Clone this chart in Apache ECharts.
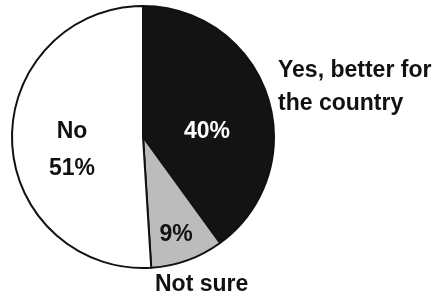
<!DOCTYPE html>
<html>
<head>
<meta charset="utf-8">
<script src="https://cdn.jsdelivr.net/npm/echarts@6/dist/echarts.min.js"></script>
<style>
  html, body { margin: 0; padding: 0; background: #fff; }
  #chart { width: 441px; height: 298px; }
</style>
</head>
<body>
<div id="chart"></div>
<script>
// answers, clockwise from 12 o'clock
const categories = ['Yes, better for\nthe country', 'Not sure', 'No']
const shares = [40, 9, 51]
const fills = ['#131313', '#bcbcbc', '#ffffff']

// where each label sits (x, y in px)
const innerLabelPos = [[207, 132], [176, 235], [72, 150]]
const outerLabelPos = [[278, 87], [155, 285], null]

const chart = echarts.init(document.getElementById('chart'))

const font = {
    fontFamily: 'Liberation Sans',
    fontWeight: 'bold',
    fontSize: 23
}

chart.setOption({
    animation: false,
    series: [
        {
            // slices with their percent labels
            type: 'pie',
            center: [143, 137],
            radius: 131,
            startAngle: 90,
            silent: true,
            itemStyle: { borderColor: '#111', borderWidth: 2 },
            label: {
                position: 'inside',
                ...font,
                lineHeight: 37,
                formatter: p => p.dataIndex === 2 ? 'No\n' + p.value + '%' : p.value + '%'
            },
            labelLine: { show: false },
            labelLayout: p => ({
                x: innerLabelPos[p.dataIndex][0],
                y: innerLabelPos[p.dataIndex][1],
                align: 'center',
                verticalAlign: 'middle'
            }),
            data: categories.map((name, i) => ({
                name,
                value: shares[i],
                itemStyle: { color: fills[i] },
                label: { color: i === 0 ? '#fff' : '#111' }
            }))
        },
        {
            // outside category names
            type: 'pie',
            center: [143, 137],
            radius: 131,
            startAngle: 90,
            silent: true,
            itemStyle: { color: 'transparent', borderWidth: 0 },
            label: {
                position: 'outside',
                ...font,
                color: '#111',
                lineHeight: 33,
                overflow: 'none',
                formatter: '{b}'
            },
            labelLine: { show: false },
            labelLayout: p => {
                const pos = outerLabelPos[p.dataIndex]
                if (!pos) return { x: -500, y: -500 }
                return {
                    x: pos[0],
                    y: pos[1],
                    align: 'left',
                    verticalAlign: 'middle'
                }
            },
            data: categories.map((name, i) => ({
                name,
                value: shares[i],
                label: { show: i !== 2 }
            }))
        }
    ]
})
</script>
</body>
</html>
